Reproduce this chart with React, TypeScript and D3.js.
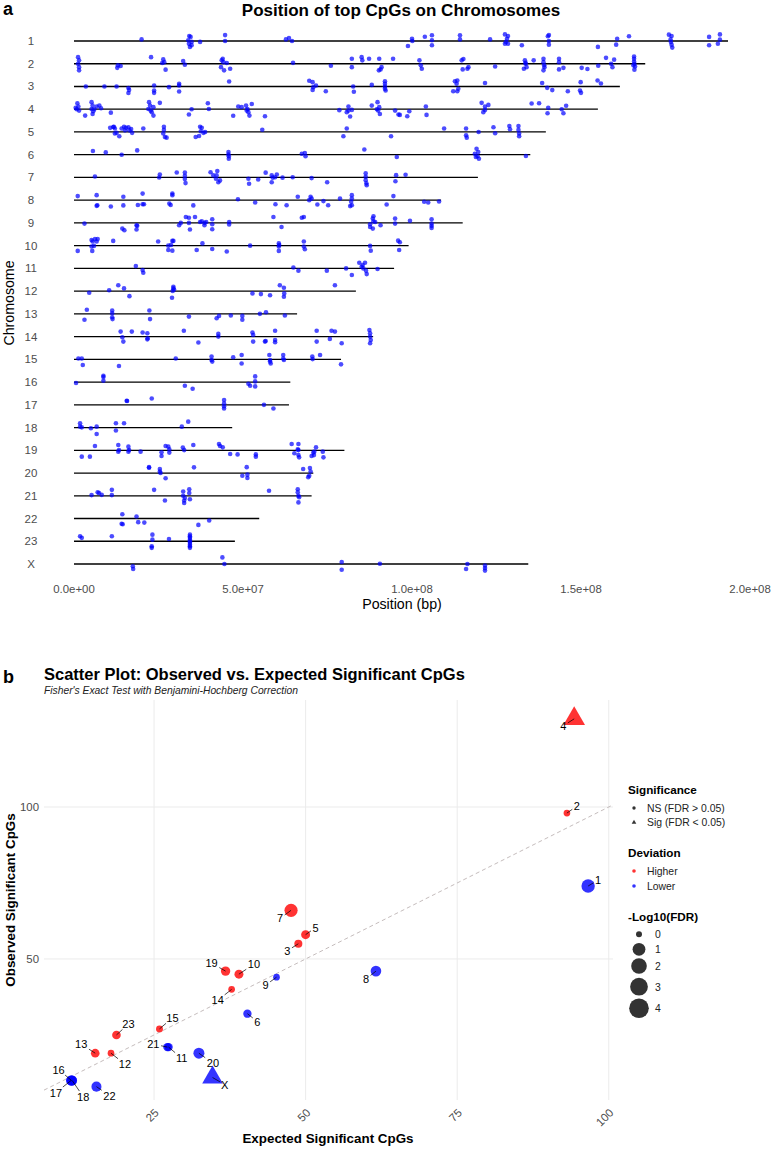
import React from "react";
import * as d3 from "d3";

const FONT = '"Liberation Sans", Arial, Helvetica, sans-serif';

// ---------- Panel a: CpG positions along each chromosome ----------
const chromosomes = ["1", "2", "3", "4", "5", "6", "7", "8", "9", "10", "11", "12", "13", "14", "15", "16", "17", "18", "19", "20", "21", "22", "23", "X"];
// extent of each chromosome track (Mb)
const chromEndsMb = [193.5, 169, 161.5, 155, 139.6, 135, 119.5, 108.6, 115, 99, 94.7, 83.4, 66, 88.5, 79, 64, 63.6, 46.8, 80, 70.8, 70.3, 54.8, 47.6, 134.4];
const positionTicks = [0, 5e7, 1e8, 1.5e8, 2e8];

type Site = [string, number, number]; // chromosome, position (Mb), vertical jitter (rows)
const sites = (chr: string, rows: number[][]): Site[] => rows.map((r) => [chr, r[0], r[1]]);

const cpgSites: Site[] = [
  ...sites("1", [[20.0,-0.07],[34.1,-0.22],[34.5,-0.18],[33.8,-0.03],[34.8,0.04],[34.0,0.12],[34.3,0.26],[34.8,0.19],[37.3,0.04],[44.7,-0.26],[44.7,0],[62.7,-0.07],[63.6,-0.13],[64.5,0],[98.8,0.22],[100,-0.1],[100.1,0],[103.8,-0.19],[105.9,-0.25],[105.9,-0.03],[105.9,0.19],[114.2,-0.25],[114.2,-0.07],[123.1,-0.07],[127.5,-0.29],[128.4,-0.22],[128.1,-0.1],[127.8,0.04],[128.4,0.12],[127.5,0.12],[132.5,0.19],[140.5,-0.26],[140.2,-0.21],[140.5,0],[140.5,0.16],[155,0.26],[160.4,0.16],[160.7,-0.1],[164.2,-0.21],[176.0,-0.28],[176.8,-0.22],[176.5,-0.07],[176.6,0.04],[176.8,0.16],[177.0,0.29],[187.9,-0.18],[187.9,0.19],[190.5,0.12],[191.1,-0.29],[191.1,-0.06]]),
  ...sites("2", [[1.2,-0.29],[1.5,-0.15],[1.2,0],[1.5,0.15],[1.5,0.29],[13.0,0.07],[13.8,0.1],[12.8,0.18],[22.8,-0.29],[26.4,-0.19],[26.7,-0.07],[26.1,-0.03],[27.1,0.26],[32.3,-0.12],[32.8,0.04],[44.0,-0.22],[43.7,-0.15],[44.2,-0.07],[45.2,-0.03],[43.5,0.15],[44.4,0.29],[46.2,0.22],[64.8,-0.04],[76.0,0.09],[82.2,-0.22],[82.2,0.15],[85.1,-0.29],[85.3,-0.15],[87.3,-0.22],[90.3,-0.22],[90.7,0.25],[90.2,0.29],[91.0,0.15],[94.4,-0.22],[102.2,-0.15],[102.6,0.07],[102.9,0.22],[114.7,-0.15],[115.2,-0.21],[115.0,0.25],[116.7,0.15],[116.4,0.22],[124.6,0.12],[133.4,-0.15],[133.6,0],[133.1,0.22],[133.9,0.15],[133.6,-0.04],[136.0,-0.15],[138.9,-0.22],[138.9,-0.07],[139.1,0.07],[138.9,0.29],[139.2,0.15],[143.5,-0.22],[143.5,-0.07],[143.5,0.25],[144.8,0.18],[150.2,0.18],[151.9,0.23],[155.1,0.09],[157.4,-0.26],[158.9,0],[159.3,0.15],[159.8,-0.18],[165.7,-0.32],[165.7,-0.22],[165.7,-0.1],[165.8,0],[166.0,0.12],[165.8,0.26],[165.5,0.07]]),
  ...sites("3", [[3.5,0],[9.0,0],[12.6,0],[16.1,0.07],[16.1,0.29],[16.3,0.15],[23.7,-0.04],[23.7,0.18],[23.7,0.28],[28.1,0.03],[31.1,-0.12],[31.1,-0.04],[31.1,0.22],[45.9,-0.22],[69.6,-0.25],[70.6,-0.19],[70.8,0.03],[70.6,0.15],[71.6,-0.04],[74.5,0.21],[82.6,0],[82.8,0.23],[88.1,-0.07],[92.0,-0.23],[92.0,-0.12],[92.0,0],[92.0,0.1],[92.2,0.18],[112.7,-0.23],[113.4,-0.26],[113.2,-0.12],[112.2,0.21],[113.4,0.21],[113.7,0.1],[121.6,-0.15],[138.5,-0.15],[140.0,0.06],[141.5,0.16],[146.1,0.21],[149.9,-0.19],[149.7,0.18],[150.0,0.28],[154.9,-0.26],[155.9,-0.13]]),
  ...sites("4", [[1.0,-0.26],[1.3,-0.12],[0.8,0],[1.5,0.06],[0.5,-0.06],[3.3,0.28],[5.2,-0.31],[5.5,-0.16],[5.2,-0.01],[5.7,0.09],[5.5,0.21],[6.7,-0.12],[6.0,0],[7.5,-0.16],[8.0,-0.04],[10.9,0.15],[22.2,-0.31],[22.5,-0.16],[22.0,-0.01],[23.0,0.13],[23.5,0.28],[22.7,0.06],[23.5,-0.09],[25.4,-0.28],[34.0,0.23],[34.8,0],[39.6,-0.26],[39.9,-0.01],[47.1,0.29],[48.6,-0.12],[49.6,-0.09],[50.9,-0.16],[51.3,-0.01],[51.6,0.13],[51.9,0.28],[52.6,-0.23],[51.1,0.06],[56.5,0.31],[78.5,0.04],[81.2,-0.12],[81.2,0.06],[80.7,0.13],[82.2,0.03],[81.7,0.32],[88.1,-0.16],[89.6,0],[89.8,-0.31],[90.3,-0.09],[90.5,0.21],[90.0,0.06],[95.0,0.06],[96.0,0.23],[96.4,0.25],[98.6,0.31],[99.2,0.09],[104.1,-0.12],[104.3,0.25],[120.6,-0.28],[121.6,-0.12],[122.6,-0.19],[121.1,0.13],[121.6,0.03],[135.4,-0.25],[137.6,-0.26],[140.3,-0.06],[140.1,0.18],[144.3,0],[144.8,0.18],[145.6,-0.15]]),
  ...sites("5", [[10.7,-0.18],[11.6,-0.22],[12.1,-0.15],[12.6,0.04],[13.4,0.19],[12.1,0.07],[11.8,-0.23],[14.8,-0.23],[15.4,-0.18],[16.1,-0.21],[16.9,-0.13],[17.2,0.04],[16.4,-0.07],[15.1,-0.07],[14.1,-0.15],[20.5,-0.15],[26.6,-0.23],[26.6,-0.09],[26.4,0.07],[26.9,0.22],[27.4,0.25],[36.0,0.22],[37.0,0.18],[37.5,-0.03],[37.3,-0.23],[37.8,-0.18],[38.3,0.04],[38.8,0],[55.7,-0.1],[79.7,0.19],[80.7,-0.15],[93.8,0.19],[109.5,-0.15],[116.0,-0.15],[116.0,0.15],[116.2,0.25],[119.7,0],[124.1,-0.21],[124.6,0.06],[128.8,-0.26],[129.0,-0.12],[131.5,-0.26],[131.5,-0.09],[131.7,0.07],[131.7,0.19]]),
  ...sites("6", [[5.6,-0.16],[9.4,-0.1],[14.1,0],[18.7,-0.19],[45.7,-0.12],[45.7,-0.01],[45.8,0.07],[45.8,0.18],[67.4,-0.04],[68.3,-0.07],[68.5,0.07],[85.9,-0.23],[95.5,0.1],[119.1,-0.26],[118.6,-0.04],[119.4,0.07],[119.8,0.18],[118.9,0.1],[119.6,-0.12],[133.7,0.06]]),
  ...sites("7", [[6.2,-0.04],[25.4,-0.13],[25.2,0],[30.4,-0.22],[32.8,-0.22],[32.8,-0.07],[32.8,0.07],[33.0,0.25],[40.4,-0.23],[41.2,-0.09],[42.0,0.06],[42.7,0.21],[42.4,-0.28],[42.2,-0.09],[43.2,0.13],[51.6,0.06],[51.8,0.28],[54.5,0.09],[56.7,-0.21],[58.5,-0.09],[58.8,0.01],[58.5,0.21],[60.0,-0.13],[59.5,-0.01],[61.7,0.01],[64.7,-0.01],[70.3,0.03],[74.9,0.21],[86.3,-0.18],[86.3,-0.03],[86.3,0.12],[86.5,0.26],[86.6,0.34],[95.3,-0.1],[95.1,0.17],[98.1,-0.12]]),
  ...sites("8", [[1.1,-0.18],[6.7,-0.22],[6.9,0.22],[6.7,0.25],[10.9,0.28],[14.6,-0.15],[14.6,0.23],[18.9,0.21],[20.3,-0.29],[20.7,0.18],[20.3,0.18],[28.2,0.15],[29.1,-0.22],[29.1,-0.29],[28.6,0.21],[35.3,0.23],[48.5,-0.04],[53.6,0.1],[59.6,0.18],[62.9,0.22],[66.2,-0.15],[69.6,0],[70.0,-0.15],[70.3,-0.07],[72.0,0.19],[73.8,0.04],[75.2,0.22],[78.7,-0.07],[82.2,-0.22],[82.2,-0.07],[82.0,0.07],[81.7,0.26],[82.2,0.22],[92.5,0.19],[94.5,-0.18],[103.6,0.07],[104.8,0.1],[108.0,0.06]]),
  ...sites("9", [[3.1,0.03],[14.3,0.25],[14.9,0.32],[18.5,0.1],[18.5,0.29],[18.7,0.13],[31.1,0.1],[31.6,0],[33.1,-0.26],[34.0,-0.23],[34.0,0],[34.3,0.29],[35.8,-0.26],[37.3,-0.04],[37.8,-0.07],[38.6,0],[38.6,0.1],[39.1,-0.04],[40.9,-0.16],[40.9,0.06],[40.9,0.28],[45.9,-0.04],[45.9,0.07],[59.0,-0.26],[61.4,0.18],[67.4,-0.23],[68.0,-0.26],[87.6,0.06],[88.4,-0.19],[88.6,-0.07],[88.4,0.25],[89.1,-0.04],[90.7,0.1],[87.6,0.18],[88.6,-0.29],[95.0,-0.19],[95.0,0.03],[99.4,-0.09],[105.8,-0.16],[105.8,0.03],[105.8,0.13],[105.8,0.22]]),
  ...sites("10", [[1.1,0.23],[5.2,-0.25],[5.5,-0.18],[6.2,-0.29],[6.7,-0.18],[5.2,0.04],[5.4,0.23],[5.9,0.01],[7.0,-0.29],[11.6,-0.21],[24.9,-0.18],[27.9,0],[27.9,0.19],[28.7,-0.03],[29.1,-0.21],[29.4,-0.21],[29.1,0.22],[36.3,0.19],[38.0,-0.1],[40.9,0.15],[45.2,0.26],[52.1,0],[60.6,-0.1],[60.6,0.04],[60.6,0.23],[60.7,-0.03],[68.0,-0.18],[68.0,0.04],[68.3,0.16],[87.6,0.01],[87.8,0.22],[95.9,-0.22],[96.2,0.19],[96.4,-0.15]]),
  ...sites("11", [[18.3,-0.1],[20.3,0.07],[20.5,0.19],[64.9,-0.04],[66.4,0.1],[74.8,0.1],[80.5,0],[82.2,0.29],[84.4,-0.25],[85.4,-0.15],[86.1,-0.25],[85.6,0],[86.4,0.1],[86.6,0.25],[85.1,-0.07],[89.8,0.03]]),
  ...sites("12", [[4.5,0.07],[10.4,-0.04],[13.1,-0.26],[14.8,-0.12],[16.4,0.22],[29.4,-0.19],[29.4,-0.12],[29.2,-0.01],[29.0,0.29],[29.6,-0.07],[52.8,0.1],[55.3,0.13],[58.0,0.18],[60.9,-0.26],[62.1,-0.15],[62.2,0.1],[62.1,0.25],[77.2,-0.26]]),
  ...sites("13", [[3.8,-0.18],[3.1,0.26],[11.3,-0.15],[11.3,-0.03],[11.3,0.15],[11.4,0.23],[22.3,-0.15],[22.5,0.23],[34.0,0.12],[42.2,0.19],[42.9,0.09],[46.4,0.07],[49.8,0.09],[49.8,0.26],[55.0,0],[56.8,-0.07],[62.4,0.07]]),
  ...sites("14", [[13.8,-0.22],[14.6,0.22],[14.3,0.03],[17.1,-0.22],[20.3,-0.18],[21.7,-0.15],[21.8,0.07],[21.7,0.12],[32.5,-0.26],[36.8,0.26],[42.7,-0.12],[42.7,0],[52.8,-0.18],[53.0,-0.07],[53.0,0.22],[56.5,0.22],[56.7,0.19],[59.5,-0.26],[59.5,0.15],[59.5,0.25],[71.8,-0.26],[71.8,0.22],[75.7,0.1],[76.2,-0.26],[77.2,-0.22],[79.2,0.29],[87.4,-0.29],[87.6,-0.15],[87.6,0],[87.8,0.15],[87.6,0.29]]),
  ...sites("15", [[1.3,-0.04],[2.3,-0.04],[2.6,0.25],[13.3,0.29],[30.1,-0.04],[40.7,-0.12],[40.7,0.03],[40.9,0.1],[47.1,-0.09],[49.6,-0.19],[49.6,0.18],[57.8,-0.19],[58.0,0.03],[58.2,0.18],[58.0,0.1],[61.9,-0.19],[61.9,-0.04],[62.1,0.03],[70.5,-0.12],[70.6,-0.01],[72.8,-0.19],[79.0,0.22]]),
  ...sites("16", [[0.6,0.04],[8.7,-0.28],[8.7,-0.22],[8.7,-0.06],[32.8,0.16],[35.1,0.29],[51.6,0.07],[52.1,0.16],[53.6,-0.25],[53.6,-0.03],[53.6,0.19]]),
  ...sites("17", [[15.6,-0.18],[15.7,-0.17],[23.0,-0.28],[44.4,-0.21],[44.4,-0.06],[44.4,0.06],[44.4,0.16],[56.2,0],[59.0,0.16]]),
  ...sites("18", [[1.8,-0.19],[1.8,-0.04],[2.3,-0.01],[5.0,0.03],[6.7,-0.04],[6.7,0.28],[12.4,-0.19],[12.4,0.13],[14.8,-0.19],[31.9,-0.04],[33.8,-0.26]]),
  ...sites("19", [[2.3,0.28],[4.7,0.28],[6.2,-0.19],[13.1,-0.23],[13.1,0.06],[13.3,-0.01],[16.1,-0.16],[16.1,0.06],[16.3,-0.01],[19.7,0.06],[25.9,0.09],[25.9,0.25],[27.1,-0.19],[27.9,-0.16],[28.2,-0.04],[28.2,0.1],[32.2,-0.12],[32.6,-0.01],[35.3,-0.23],[42.9,-0.28],[43.2,-0.19],[44.0,-0.13],[46.2,0.16],[48.4,0.18],[53.8,0.18],[53.8,0.28],[64.4,-0.28],[65.2,0.13],[66.4,-0.28],[66.4,-0.01],[66.4,0.21],[66.6,0.31],[66.2,-0.04],[70.3,0.25],[70.8,0.1],[71.0,0.21],[71.6,-0.13],[71.1,0.06],[73.6,0.06],[73.8,0.31]]),
  ...sites("20", [[22.2,-0.26],[22.2,-0.23],[25.4,-0.18],[25.4,-0.07],[25.6,0],[27.1,0.23],[35.5,-0.25],[49.8,0.12],[51.1,-0.26],[51.3,0.07],[51.3,0.22],[67.8,-0.18],[69.8,-0.22],[70.0,-0.07],[69.6,0.12],[69.3,0.18]]),
  ...sites("21", [[5.2,-0.03],[7.0,-0.15],[7.4,-0.12],[8.2,-0.04],[11.2,-0.26],[11.2,-0.03],[23.7,-0.26],[26.9,0.21],[32.3,-0.19],[32.3,0],[32.6,0.21],[32.6,0.32],[32.8,0.1],[34.1,-0.29],[34.1,-0.12],[34.3,0.15],[57.7,-0.22],[66.2,-0.29],[66.2,-0.15],[66.4,0],[66.4,0.29],[66.6,0.06]]),
  ...sites("22", [[14.3,-0.19],[14.1,0.23],[14.4,0.25],[18.5,-0.09],[19.0,0.16],[20.8,0.18],[36.8,0.28],[40.0,0.09]]),
  ...sites("23", [[1.8,-0.22],[2.3,-0.15],[11.2,-0.22],[23.2,-0.29],[23.2,-0.07],[23.0,0.22],[23.0,0.29],[28.1,-0.1],[34.3,-0.29],[34.3,-0.22],[34.3,-0.15],[34.3,-0.07],[34.3,0],[34.3,0.07],[34.3,0.15],[34.3,0.22],[34.3,0.29]]),
  ...sites("X", [[17.4,0.1],[17.5,0.22],[43.9,-0.29],[44.5,0],[79.2,-0.09],[79.2,0.25],[90.5,-0.01],[116.4,0],[116.0,0.22],[121.6,0.07],[121.6,0.18],[121.6,0.29]]),
];

// ---------- Panel b: observed vs expected per chromosome ----------
const expectedSig = [96.6, 93.1, 48.8, 94.3, 50.0, 40.4, 47.6, 61.6, 45.2, 39.0, 27.4, 17.9, 15.3, 37.8, 25.9, 11.4, 11.3, 11.5, 36.8, 32.4, 27.2, 15.5, 18.8, 34.65];
const observedSig = [74, 98, 55, 129, 58, 32, 66, 46, 44, 45, 21, 19, 19, 40, 27, 10, 10, 10, 46, 19, 21, 8, 25, 11];
const negLog10FDR = [1.18, 0.01, 0.09, 2.2, 0.19, 0.12, 1.1, 0.46, 0.01, 0.19, 0.12, 0.01, 0.15, 0.01, 0.02, 0.46, 0.3, 0.3, 0.25, 0.54, 0.12, 0.35, 0.15, 1.9];
const sizeBreaks = [0, 1, 2, 3, 4];
const expectedTicks = [25, 50, 75, 100];
const observedTicks = [50, 100];

// repelled label placement (px from the point)
const labelNudge: Record<string, [number, number]> = {
  "1": [10, -6], "2": [10, -7], "3": [-11, 7], "4": [-11, 7], "5": [10, -7], "6": [10, 8],
  "7": [-11, 8], "8": [-10, 8], "9": [-11, 8], "10": [15, -10], "11": [13, 11], "12": [14, 11],
  "13": [-14, -9], "14": [-14, 11], "15": [13, -11], "16": [-13, -11], "17": [-15, 12], "18": [11, 16],
  "19": [-14, -8], "20": [14, 10], "21": [-14, -3], "22": [13, 9], "23": [12, -11], "X": [12, 7],
};

const HIGHER = "#ff0000";
const LOWER = "#0000ff";

const sciLabel = (v: number) => d3.format(".1e")(v).replace(/e([+-])(\d)$/, "e$10$2");

function trianglePath(cx: number, cy: number, r: number) {
  const top = 1.555 * r, half = 1.347 * r, base = 0.778 * r;
  return `M${cx},${cy - top}L${cx + half},${cy + base}L${cx - half},${cy + base}Z`;
}

function ChromosomePanel() {
  const x = d3.scaleLinear().domain([0, 2e8]).range([74, 750]);
  const y = d3.scalePoint<string>().domain(chromosomes).range([41, 564]);
  const step = y.step();
  return (
    <g>
      <text x={3} y={15} fontSize={18} fontWeight="bold">a</text>
      <text x={401} y={16} fontSize={17} fontWeight="bold" textAnchor="middle">Position of top CpGs on Chromosomes</text>
      {chromosomes.map((c) => (
        <text key={"l" + c} x={31} y={(y(c) as number) + 4} fontSize={11.5} fill="#4d4d4d" textAnchor="middle">{c}</text>
      ))}
      {chromosomes.map((c, i) => (
        <line key={"t" + c} x1={x(0)} x2={x(chromEndsMb[i] * 1e6)} y1={y(c)} y2={y(c)} stroke="#000" strokeWidth={1.3} />
      ))}
      {cpgSites.map(([c, mb, j], i) => (
        <circle key={i} cx={x(mb * 1e6)} cy={(y(c) as number) + j * step} r={2.3} fill="#0000ff" fillOpacity={0.7} />
      ))}
      {positionTicks.map((t) => (
        <text key={t} x={x(t)} y={593} fontSize={11.4} fill="#4d4d4d" textAnchor="middle">{sciLabel(t)}</text>
      ))}
      <text x={402} y={609} fontSize={14.2} textAnchor="middle">Position (bp)</text>
      <text transform="translate(14,303) rotate(-90)" fontSize={14.2} textAnchor="middle">Chromosome</text>
    </g>
  );
}

function ScatterPanel() {
  const x = d3.scaleLinear().domain([6.85, 100.7]).range([44, 613]);
  const y = d3.scaleLinear().domain([3.6, 135.2]).range([1100, 700]);
  const r = d3.scaleSqrt().domain([0, 4]).range([3, 9.8]);
  const rows = chromosomes.map((c, i) => ({
    chr: c,
    exp: expectedSig[i],
    obs: observedSig[i],
    nl: negLog10FDR[i],
    sig: negLog10FDR[i] > -Math.log10(0.05),
    higher: observedSig[i] > expectedSig[i],
  }));
  const [x0, x1] = x.domain();
  return (
    <g>
      <text x={3} y={683} fontSize={18} fontWeight="bold">b</text>
      <text x={44} y={680} fontSize={16.5} fontWeight="bold">Scatter Plot: Observed vs. Expected Significant CpGs</text>
      <text x={44} y={694} fontSize={10.3} fontStyle="italic" fill="#222">Fisher's Exact Test with Benjamini-Hochberg Correction</text>
      {expectedTicks.map((t) => (
        <line key={"gx" + t} x1={x(t)} x2={x(t)} y1={700} y2={1100} stroke="#ebebeb" strokeWidth={1} />
      ))}
      {observedTicks.map((t) => (
        <line key={"gy" + t} x1={44} x2={613} y1={y(t)} y2={y(t)} stroke="#ebebeb" strokeWidth={1} />
      ))}
      <line x1={x(x0)} y1={y(x0)} x2={x(x1)} y2={y(x1)} stroke="#bdb4b4" strokeWidth={0.9} strokeDasharray="4,3" />
      {rows.map((d) => {
        const cx = x(d.exp), cy = y(d.obs), rr = r(d.nl);
        const fill = d.higher ? HIGHER : LOWER;
        return d.sig ? (
          <path key={"p" + d.chr} d={trianglePath(cx, cy, rr)} fill={fill} fillOpacity={0.8} />
        ) : (
          <circle key={"p" + d.chr} cx={cx} cy={cy} r={rr} fill={fill} fillOpacity={0.8} />
        );
      })}
      {rows.map((d) => {
        const cx = x(d.exp), cy = y(d.obs);
        const [dx, dy] = labelNudge[d.chr];
        const lx = cx + dx, ly = cy + dy;
        const hw = d.chr.length * 3.1 + 1.5, hh = 5.5;
        const t = Math.min(hw / Math.max(Math.abs(dx), 0.01), hh / Math.max(Math.abs(dy), 0.01));
        const ex = lx - dx * t, ey = ly - dy * t;
        const long = Math.hypot(dx, dy) > 13 || t < 0.6;
        return (
          <g key={"lab" + d.chr}>
            {long && t < 1 && <line x1={cx} y1={cy} x2={ex} y2={ey} stroke="#000" strokeWidth={0.7} />}
            <text x={lx} y={ly + 4} fontSize={11} textAnchor="middle">{d.chr}</text>
          </g>
        );
      })}
      {observedTicks.map((t) => (
        <text key={"yt" + t} x={39} y={y(t) + 4} fontSize={11.4} fill="#4d4d4d" textAnchor="end">{t}</text>
      ))}
      {expectedTicks.map((t) => (
        <text key={"xt" + t} transform={`translate(${x(t) + 5.5},1113.5) rotate(-45)`} fontSize={11.4} fill="#4d4d4d" textAnchor="end">{t}</text>
      ))}
      <text x={328} y={1143} fontSize={13.4} fontWeight="bold" textAnchor="middle">Expected Significant CpGs</text>
      <text transform="translate(15,900) rotate(-90)" fontSize={13.4} fontWeight="bold" textAnchor="middle">Observed Significant CpGs</text>

      {/* legends */}
      <g fontSize={10.4} fill="#222">
        <text x={628} y={794} fontSize={11.7} fontWeight="bold" fill="#000">Significance</text>
        <circle cx={634} cy={808} r={1.7} fill="#333" />
        <text x={647} y={811.7}>NS (FDR &gt; 0.05)</text>
        <path d={trianglePath(634, 822.5, 1.7)} fill="#333" />
        <text x={647} y={826.3}>Sig (FDR &lt; 0.05)</text>

        <text x={628} y={857} fontSize={11.7} fontWeight="bold" fill="#000">Deviation</text>
        <circle cx={634} cy={871} r={1.8} fill={HIGHER} fillOpacity={0.8} />
        <text x={647} y={874.8}>Higher</text>
        <circle cx={634} cy={886} r={1.8} fill={LOWER} fillOpacity={0.8} />
        <text x={647} y={889.8}>Lower</text>

        <text x={628} y={921} fontSize={11.7} fontWeight="bold" fill="#000">-Log10(FDR)</text>
        {sizeBreaks.map((b, i) => {
          const cy = [934.3, 949.3, 966, 986.7, 1008.3][i];
          return (
            <g key={"sb" + b}>
              <circle cx={639} cy={cy} r={r(b)} fill="#333" />
              <text x={655} y={cy + 3.8}>{b}</text>
            </g>
          );
        })}
      </g>
    </g>
  );
}

export default function App() {
  return (
    <svg
      width={774}
      height={1150}
      viewBox="0 0 774 1150"
      style={{ position: "absolute", left: 0, top: 0, background: "#fff", fontFamily: FONT }}
    >
      <rect width={774} height={1150} fill="#fff" />
      <ChromosomePanel />
      <ScatterPanel />
    </svg>
  );
}
